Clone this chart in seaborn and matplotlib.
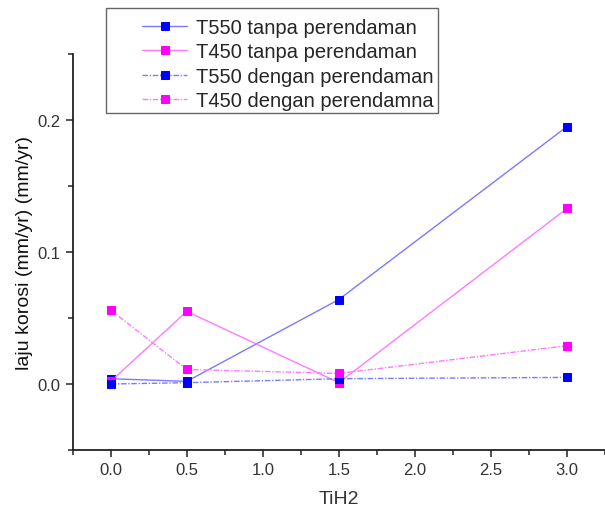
import matplotlib
matplotlib.use("Agg")
import matplotlib.pyplot as plt
from matplotlib.ticker import MultipleLocator, FormatStrFormatter
from matplotlib.patches import Rectangle
import seaborn as sns
import pandas as pd

# data
tih2 = [0.0, 0.5, 1.5, 3.0]
t550_tanpa = [0.004, 0.002, 0.064, 0.195]
t450_tanpa = [0.002, 0.055, 0.001, 0.133]
t550_dengan = [0.000, 0.001, 0.004, 0.005]
t450_dengan = [0.056, 0.011, 0.008, 0.029]

labels = ["T550 tanpa perendaman", "T450 tanpa perendaman",
          "T550 dengan perendaman", "T450 dengan perendamna"]
series = [t550_tanpa, t450_tanpa, t550_dengan, t450_dengan]

sns.set_style("ticks")
plt.rcParams['font.family'] = ['Liberation Sans', 'DejaVu Sans']

W, H = 605, 510
fig = plt.figure(figsize=(W / 100, H / 100), dpi=100)
ax = fig.add_axes([72.7 / W, 59 / H, 532.3 / W, 396 / H])

line_col = ["#7a7aff", "#ff7aff", "#7a7aff", "#ff7aff"]
mark_col = ["#0000ff", "#ff00ff", "#0000ff", "#ff00ff"]
styles = ["-", "-", (0, (4, 1.2, 1, 1.2)), (0, (4, 1.2, 1, 1.2))]

for lab, vals, lc, mc, ls in zip(labels, series, line_col, mark_col, styles):
    df = pd.DataFrame({"TiH2": tih2, "laju": vals})
    sns.lineplot(data=df, x="TiH2", y="laju", ax=ax, color=lc, linestyle=ls,
                 linewidth=1.0, marker="s", markersize=6, markerfacecolor=mc,
                 markeredgecolor=mc, label=lab)

ax.set_xlim(-0.25, 3.25)
ax.set_ylim(-0.05, 0.25)
ax.xaxis.set_major_locator(MultipleLocator(0.5))
ax.xaxis.set_minor_locator(MultipleLocator(0.25))
ax.yaxis.set_major_locator(MultipleLocator(0.1))
ax.yaxis.set_minor_locator(MultipleLocator(0.05))
ax.xaxis.set_major_formatter(FormatStrFormatter("%.1f"))
ax.yaxis.set_major_formatter(FormatStrFormatter("%.1f"))
ax.tick_params(which="major", length=5, width=1.1, labelsize=12, colors="#222222",
               labelcolor="#333333", pad=4)
ax.tick_params(which="minor", length=3.5, width=1.1, colors="#222222")
for s in ["top", "right"]:
    ax.spines[s].set_visible(False)
for s in ["left", "bottom"]:
    ax.spines[s].set_linewidth(1.3)
    ax.spines[s].set_color("#222222")

ax.set_xlabel("TiH2", fontsize=14, color="#333333", labelpad=9)
ax.set_ylabel("laju korosi (mm/yr) (mm/yr)", fontsize=14, color="#111111",
              labelpad=3)

# legend tanpa bingkai bawaan, bingkai digambar terpisah
handles, labs = ax.get_legend_handles_labels()
ax.get_legend().remove()
leg = fig.legend(handles, labs, loc="upper left",
                 bbox_to_anchor=(142 / W, 1 - 19 / H), fontsize=14.5,
                 frameon=False, handlelength=2.25, handletextpad=0.45,
                 labelspacing=0.27, borderpad=0, borderaxespad=0)
fig.add_artist(Rectangle((106 / W, 1 - 114 / H), 332 / W, 105 / H,
                         transform=fig.transFigure, fill=False,
                         edgecolor="#666666", linewidth=1.0))

fig.savefig("out.png", dpi=100)
